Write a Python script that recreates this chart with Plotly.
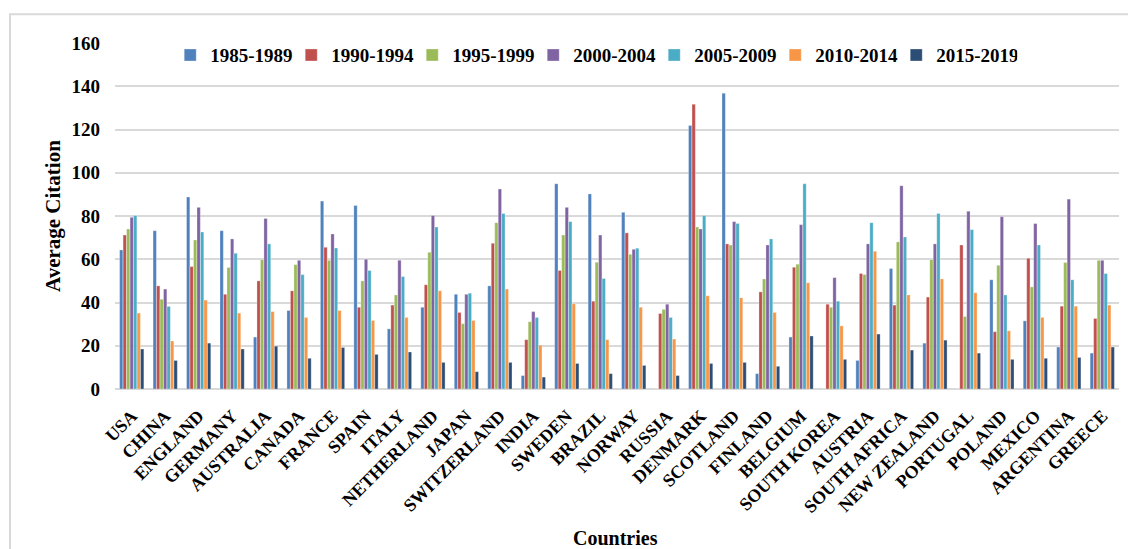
import plotly.graph_objects as go

countries = ["USA", "CHINA", "ENGLAND", "GERMANY", "AUSTRALIA", "CANADA", "FRANCE",
             "SPAIN", "ITALY", "NETHERLAND", "JAPAN", "SWITZERLAND", "INDIA", "SWEDEN",
             "BRAZIL", "NORWAY", "RUSSIA", "DENMARK", "SCOTLAND", "FINLAND", "BELGIUM",
             "SOUTH KOREA", "AUSTRIA", "SOUTH AFRICA", "NEW ZEALAND", "PORTUGAL",
             "POLAND", "MEXICO", "ARGENTINA", "GREECE"]

periods = ["1985-1989", "1990-1994", "1995-1999", "2000-2004",
           "2005-2009", "2010-2014", "2015-2019"]

p1985_1989 = [64.3, 73.2, 88.8, 73.2, 24.0, 36.3, 86.9, 84.9, 27.8, 37.8, 43.8, 47.7, 6.2, 94.9,
              90.2, 81.7, 0, 121.8, 136.8, 7.1, 24.0, 0, 13.2, 55.7, 21.2, 0, 50.5, 31.5, 19.4, 16.6]
p1990_1994 = [71.2, 47.7, 56.6, 43.8, 50.0, 45.4, 65.5, 37.8, 38.8, 48.2, 35.4, 67.4, 22.8, 54.8,
              40.6, 72.2, 34.9, 131.7, 67.1, 44.9, 56.3, 39.2, 53.4, 38.8, 42.5, 66.6, 26.5, 60.5, 38.3, 32.6]
p1995_1999 = [74.0, 41.5, 68.9, 56.2, 59.8, 57.5, 59.5, 50.0, 43.5, 63.2, 30.2, 76.9, 31.1, 71.2,
              58.6, 62.3, 36.8, 74.9, 66.6, 50.9, 57.7, 37.8, 52.9, 68.0, 59.8, 33.5, 57.2, 47.2, 58.5, 59.5]
p2000_2004 = [79.4, 46.2, 84.0, 69.4, 78.9, 59.5, 71.7, 60.0, 59.5, 80.2, 43.8, 92.5, 35.8, 84.0,
              71.2, 64.6, 39.2, 74.0, 77.4, 66.6, 76.0, 51.5, 67.1, 94.0, 67.1, 82.2, 79.7, 76.5, 87.8, 59.5]
p2005_2009 = [80.2, 38.2, 72.6, 62.8, 67.1, 52.9, 65.2, 54.8, 52.0, 74.9, 44.3, 81.2, 33.1, 77.4,
              51.1, 65.1, 33.1, 80.2, 76.5, 69.4, 94.9, 40.6, 76.9, 70.3, 81.2, 73.7, 43.5, 66.6, 50.5, 53.4]
p2010_2014 = [35.1, 22.2, 41.1, 35.1, 35.8, 33.1, 36.3, 31.7, 33.1, 45.4, 31.7, 46.2, 20.3, 39.4,
              22.8, 37.8, 23.1, 43.1, 42.2, 35.4, 49.1, 29.2, 63.7, 43.5, 50.9, 44.5, 26.9, 33.1, 38.3, 38.8]
p2015_2019 = [18.5, 13.2, 21.2, 18.5, 19.8, 14.2, 19.2, 16.0, 17.1, 12.3, 8.0, 12.3, 5.5, 11.8,
              7.1, 10.9, 6.2, 11.8, 12.3, 10.5, 24.5, 13.7, 25.4, 18.0, 22.6, 16.6, 13.7, 14.2, 14.6, 19.4]

y_ticks = [0, 20, 40, 60, 80, 100, 120, 140, 160]

series = [p1985_1989, p1990_1994, p1995_1999, p2000_2004, p2005_2009, p2010_2014, p2015_2019]
colors = ["#4F81BD", "#C0504D", "#9BBB59", "#8064A2", "#4BACC6", "#F79646", "#2C4D75"]

SERIF = "Liberation Serif, Times New Roman, serif"

fig = go.Figure()
for name, vals, col in zip(periods, series, colors):
    fig.add_trace(go.Bar(
        x=countries, y=vals, name=name,
        marker=dict(color=col, line=dict(color="rgba(255,255,255,0.6)", width=0.5)),
    ))

fig.update_layout(
    width=1128, height=549, autosize=False,
    margin=dict(l=115, r=9, t=43, b=160),
    paper_bgcolor="white", plot_bgcolor="white",
    barmode="group", bargap=0.27, bargroupgap=0.05,
    font=dict(family=SERIF, color="black"),
    legend=dict(
        orientation="h", x=0.055, xanchor="left", y=0.965, yanchor="middle",
        font=dict(family=SERIF, size=19, color="black", weight="bold"),
        entrywidth=76, entrywidthmode="pixels",
        bgcolor="rgba(0,0,0,0)", traceorder="normal",
    ),
    showlegend=True,
    xaxis=dict(
        tickangle=-45, showgrid=False, showline=False, zeroline=False,
        tickfont=dict(family=SERIF, size=18, color="black", weight="bold"),
        ticklabelstandoff=12, automargin=False,
    ),
    yaxis=dict(
        range=[0, 160], tickvals=y_ticks, showgrid=True, gridcolor="#d9d9d9", gridwidth=1.5,
        zeroline=True, zerolinecolor="#d9d9d9", zerolinewidth=1.5, showline=False,
        tickfont=dict(family=SERIF, size=19, color="black", weight="bold"),
        ticklabelstandoff=14, automargin=False,
    ),
    shapes=[dict(
        type="rect", xref="paper", yref="paper",
        x0=-0.1046, x1=1.03, y0=-0.6, y1=1.083,
        line=dict(color="#d9d9d9", width=2), fillcolor="rgba(0,0,0,0)", layer="below",
    )],
    annotations=[
        dict(text="<b>Average Citation</b>", xref="paper", yref="paper",
             x=-0.0618, y=0.5, xanchor="center", yanchor="middle", textangle=-90,
             showarrow=False, font=dict(family=SERIF, size=21, color="black")),
        dict(text="<b>Countries</b>", xref="paper", yref="paper",
             x=0.499, y=-0.43, xanchor="center", yanchor="middle",
             showarrow=False, font=dict(family=SERIF, size=20, color="black")),
    ],
)

fig.write_html("out.html")
